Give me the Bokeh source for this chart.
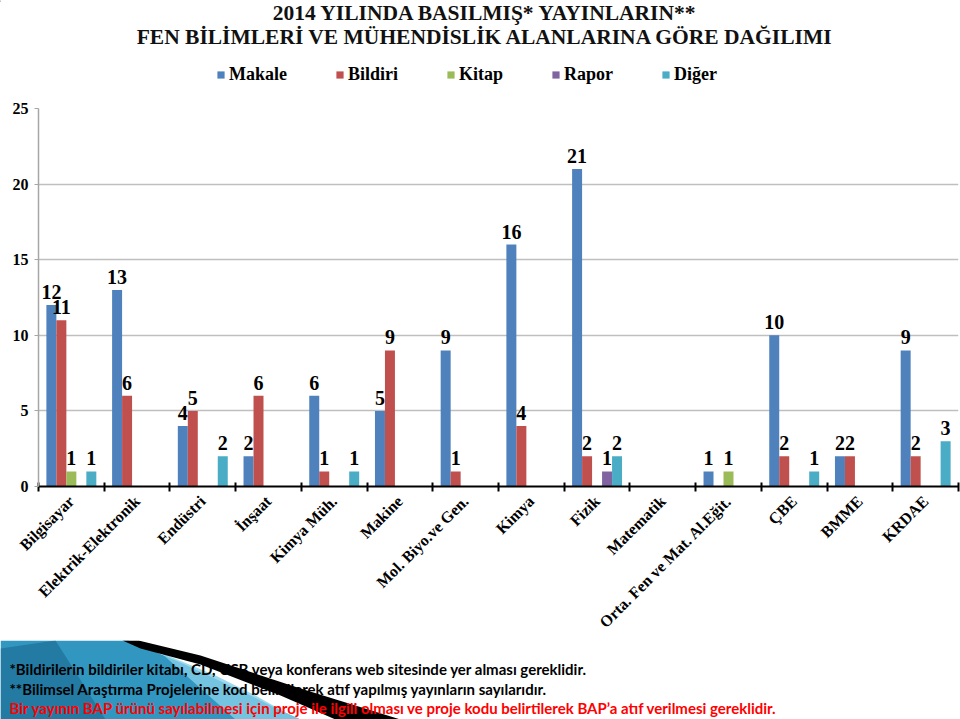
from math import pi
from bokeh.plotting import figure
from bokeh.layouts import column
from bokeh.models import (ColumnDataSource, Range1d, FixedTicker, Legend, LegendItem, Label)
from bokeh.transform import dodge
from bokeh.core.properties import value
from bokeh.embed import file_html
from bokeh.resources import INLINE

# ---------------- data ----------------
categories = ["Bilgisayar", "Elektrik-Elektronik", "Endüstri", "İnşaat", "Kimya Müh.",
              "Makine", "Mol. Biyo.ve Gen.", "Kimya", "Fizik", "Matematik",
              "Orta. Fen ve Mat. Al.Eğit.", "ÇBE", "BMME", "KRDAE"]
makale = [12, 13, 4, 2, 6, 5, 9, 16, 21, 0, 1, 10, 2, 9]
bildiri = [11, 6, 5, 6, 1, 9, 1, 4, 2, 0, 0, 2, 2, 2]
kitap = [1, 0, 0, 0, 0, 0, 0, 0, 0, 0, 1, 0, 0, 0]
rapor = [0, 0, 0, 0, 0, 0, 0, 0, 1, 0, 0, 0, 0, 0]
diger = [1, 0, 2, 0, 1, 0, 0, 0, 2, 0, 0, 1, 0, 3]
series_names = ["Makale", "Bildiri", "Kitap", "Rapor", "Diğer"]
y_ticks = [0, 5, 10, 15, 20, 25]

title_line1 = "2014 YILINDA BASILMIŞ* YAYINLARIN**"
title_line2 = "FEN BİLİMLERİ VE MÜHENDİSLİK ALANLARINA GÖRE DAĞILIMI"
note1 = "*Bildirilerin bildiriler kitabı, CD, USB veya konferans web sitesinde yer alması gereklidir."
note2 = "**Bilimsel Araştırma Projelerine kod belirtilerek atıf yapılmış yayınların sayılarıdır."
note3 = "Bir yayının BAP ürünü sayılabilmesi için proje ile ilgili olması ve proje kodu belirtilerek BAP’a atıf verilmesi gereklidir."

# ---------------- style ----------------
colors = ["#4F81BD", "#C0504D", "#9BBB59", "#8064A2", "#4BACC6"]
SERIF = "Liberation Serif"
BAR_W = 0.152

all_series = [makale, bildiri, kitap, rapor, diger]
n = len(categories)
centers = [i + 0.5 for i in range(n)]

W = 960
H_TOP, H_MAIN, H_BOT = 98, 542, 79


def blank_fig(h):
    f = figure(width=W, height=h, x_range=Range1d(0, W), y_range=Range1d(h, 0),
               output_backend="svg", toolbar_location=None, title=None,
               x_axis_location=None, y_axis_location=None,
               min_border=0, min_border_left=0, min_border_right=0,
               min_border_top=0, min_border_bottom=0)
    f.outline_line_color = None
    f.xgrid.visible = False
    f.ygrid.visible = False
    return f


# ================= top: title + legend =================
top = blank_fig(H_TOP)
for txt, yy in [(title_line1, 12), (title_line2, 36)]:
    top.add_layout(Label(x=485, y=yy, text=txt, text_align="center", text_baseline="middle",
                         text_font=SERIF, text_font_style="bold", text_font_size="21.5px",
                         text_color="#111111"))
legend_renderers = []
for col in colors:
    legend_renderers.append(top.vbar(x=[-100], top=[1], width=1, fill_color=col, line_color=None))
legend = Legend(items=[LegendItem(label=nm, renderers=[r]) for nm, r in zip(series_names, legend_renderers)],
                orientation="horizontal", location=(216, 13),
                glyph_width=9, glyph_height=9, label_standoff=4, spacing=48,
                padding=0, margin=0, border_line_color=None, background_fill_alpha=0,
                label_text_font=SERIF, label_text_font_style="bold",
                label_text_font_size="18px", label_text_color="black")
top.add_layout(legend, "center")

# ================= main chart =================
p = figure(width=W, height=H_MAIN, x_range=Range1d(0, n), y_range=Range1d(0, 25),
           output_backend="svg", toolbar_location=None, title=None,
           min_border_left=38, min_border_right=2, min_border_top=10, min_border_bottom=154)
p.outline_line_color = None

offsets = [(k - 2) * BAR_W for k in range(5)]
for name, vals, col, off in zip(series_names, all_series, colors, offsets):
    src = ColumnDataSource(dict(x=centers, top=vals))
    p.vbar(x=dodge("x", off, range=p.x_range), top="top", width=BAR_W, bottom=0,
           source=src, fill_color=col, line_color=None)
    lab_x = [c for c, v in zip(centers, vals) if v > 0]
    lab_y = [v for v in vals if v > 0]
    lab_t = [str(v) for v in vals if v > 0]
    lsrc = ColumnDataSource(dict(x=lab_x, y=lab_y, t=lab_t))
    p.text(x=dodge("x", off, range=p.x_range), y="y", text="t", source=lsrc,
           text_align="center", text_baseline="bottom", y_offset=-6,
           text_font=value(SERIF), text_font_style="bold", text_font_size="20px",
           text_color="black")

p.xgrid.visible = False
p.ygrid.grid_line_color = "#BFBFBF"
p.ygrid.grid_line_width = 1.5
p.ygrid.ticker = FixedTicker(ticks=y_ticks)

yax = p.yaxis[0]
yax.ticker = FixedTicker(ticks=y_ticks)
yax.axis_line_color = "#A6A6A6"
yax.axis_line_width = 1.5
yax.major_tick_line_color = "#A6A6A6"
yax.major_tick_in = 0
yax.major_tick_out = 4
yax.minor_tick_line_color = None
yax.major_label_standoff = 6
yax.major_label_text_font = SERIF
yax.major_label_text_font_style = "bold"
yax.major_label_text_font_size = "16px"
yax.major_label_text_color = "black"

xax = p.xaxis[0]
xax.ticker = FixedTicker(ticks=centers, minor_ticks=list(range(n + 1)))
xax.major_label_overrides = {c: name for c, name in zip(centers, categories)}
xax.axis_line_color = "black"
xax.axis_line_width = 2
xax.major_tick_line_color = None
xax.minor_tick_line_color = "black"
xax.minor_tick_line_width = 2
xax.minor_tick_in = 4
xax.minor_tick_out = 5
xax.major_label_orientation = pi / 4
xax.major_label_standoff = 6
xax.major_label_text_font = SERIF
xax.major_label_text_font_style = "bold"
xax.major_label_text_font_size = "16px"
xax.major_label_text_color = "black"

# ================= bottom: slide decoration + notes =================
bot = blank_fig(H_BOT)
bot.patch(x=[0, 128, 180, 240, 280, 300, 0], y=[0, 0, 22, 50, 70, 79, 79],
          fill_color="#3197C0", line_color=None)
bot.patch(x=[0, 55, 105, 0], y=[8, 0, 79, 79], fill_color="#1B6890", fill_alpha=0.6, line_color=None)
bot.patch(x=[160, 215, 255, 285, 300, 235], y=[12, 35, 55, 72, 79, 79],
          fill_color="#86D0E8", fill_alpha=0.8, line_color=None)
bot.patch(x=[300, 330, 400, 335], y=[56, 70, 79, 79], fill_color="#CFEFF8", line_color=None)
bot.patch(x=[122, 138, 200, 300, 400, 335, 280, 200, 140], y=[0, 0, 15, 48, 79, 79, 55, 24, 8],
          fill_color="black", line_color=None)

for txt, yy, col in [(note1, 28, "black"), (note2, 48, "black"), (note3, 67, "#FF0000")]:
    bot.add_layout(Label(x=9, y=yy, text=txt, text_align="left", text_baseline="middle",
                         text_font="Lato", text_font_style="bold", text_font_size="15px",
                         text_color=col))

layout = column(top, column(p), bot, spacing=0)
open("out.html", "w").write(file_html(layout, INLINE))
